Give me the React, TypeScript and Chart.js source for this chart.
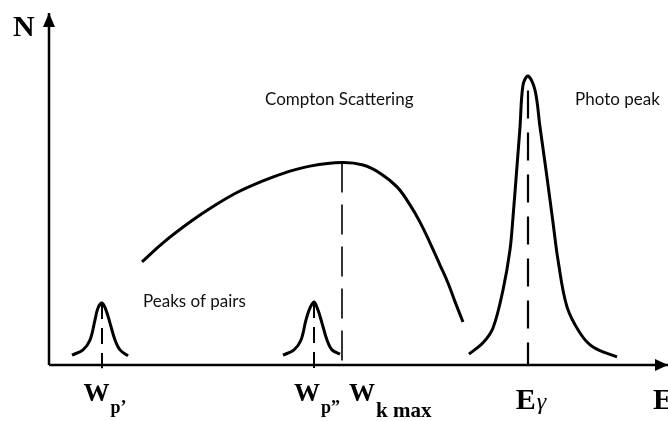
import { useEffect, useRef } from "react";
import { Chart, registerables } from "chart.js";

Chart.register(...registerables);

// Energy (arbitrary units) and counts N (0..100)
const pairPeak1E = [23, 34, 41, 46, 49, 53, 57, 61, 66, 71, 79];
const pairPeak1N = [2.8, 4.3, 7.1, 12.8, 16.2, 17.6, 15.6, 11.9, 7.1, 4.3, 2.6];
const pairPeak2E = [234, 245, 252, 257, 261, 265, 269, 273, 278, 283, 291];
const pairPeak2N = [2.8, 4.3, 7.1, 12.8, 16.2, 17.9, 15.6, 11.9, 7.1, 4.3, 3.1];
const comptonE = [93, 114, 141, 164, 188, 214, 238, 261, 293, 314, 331, 348, 361, 371, 381, 391, 399, 406, 414];
const comptonN = [29.3, 34.7, 40.6, 45.0, 49.0, 52.3, 54.8, 56.5, 57.5, 56.8, 54.5, 50.6, 45.5, 40.6, 34.7, 28.4, 23.3, 18.0, 12.2];
const photoE = [420, 434, 444, 454, 461, 464, 468, 471, 474, 479, 486, 491, 497, 501, 504, 509, 518, 531, 544, 568];
const photoN = [3.1, 6.3, 10.5, 21.3, 32.7, 42.0, 56.5, 67.6, 79.5, 82.1, 78.1, 67.6, 55.4, 46.9, 40.5, 29.8, 16.5, 9.1, 5.1, 2.3];

// Marked energies: Wp', Wp'', Wk max, Eγ
const markerE = [53, 265, 293, 479];
const markerTopN = [17.6, 17.9, 57.5, 78];
const markerMain = ["W", "W", "W", "E"];
const markerSub = ["p’", "p”", "k max", "γ"];

const noteTexts = ["Compton Scattering", "Photo peak", "Peaks of pairs"];
const noteE = [216, 526, 94];
const noteN = [73.9, 73.9, 16.5];

const axisMaxE = 619;
const axisMaxN = 100;
const axisTitleX = "E";
const axisTitleY = "N";

const pts = (xs: number[], ys: number[]) => xs.map((x, i) => ({ x, y: ys[i] }));

export default function App() {
  const ref = useRef<HTMLCanvasElement | null>(null);

  useEffect(() => {
    if (!ref.current) return;
    const serifB = "'Liberation Serif', 'Times New Roman', serif";
    const sans = "Lato, 'Open Sans', sans-serif";
    const markerDash = [[16, 9], [16, 9], [30, 12], [28, 14]];
    const markerWidth = [2, 2, 1.6, 2.2];
    const markerAlign = ["center", "center", "start", "center"];

    const curve = (data: any, tension: number) => ({
      data,
      showLine: true,
      borderColor: "#000",
      borderWidth: 3,
      pointRadius: 0,
      tension,
      clip: false as any,
    });

    const datasets: any[] = [
      curve(pts(pairPeak1E, pairPeak1N), 0.35),
      curve(pts(pairPeak2E, pairPeak2N), 0.35),
      curve(pts(comptonE, comptonN), 0.4),
      curve(pts(photoE, photoN), 0.35),
      // axes
      { data: [{ x: 0, y: 0 }, { x: 0, y: axisMaxN }], showLine: true, borderColor: "#000", borderWidth: 2.5, pointRadius: 0, clip: false },
      { data: [{ x: 0, y: 0 }, { x: axisMaxE, y: 0 }], showLine: true, borderColor: "#000", borderWidth: 2.5, pointRadius: 0, clip: false },
    ];
    markerE.forEach((e, i) => {
      datasets.push({
        data: [{ x: e, y: markerTopN[i] }, { x: e, y: i < 2 ? -0.9 : 0 }],
        showLine: true,
        borderColor: "#000",
        borderWidth: markerWidth[i],
        borderDash: markerDash[i],
        pointRadius: 0,
        clip: false,
      });
    });

    const plugin = {
      id: "schematic",
      afterDatasetsDraw(chart: any) {
        const { ctx } = chart;
        const xs = chart.scales.x;
        const ys = chart.scales.y;
        const px = (v: number) => xs.getPixelForValue(v);
        const py = (v: number) => ys.getPixelForValue(v);
        ctx.save();
        ctx.fillStyle = "#000";
        // arrow heads
        const ax = px(0), at = py(axisMaxN);
        ctx.beginPath();
        ctx.moveTo(ax, at);
        ctx.lineTo(ax - 6, at + 14);
        ctx.lineTo(ax + 6, at + 14);
        ctx.closePath();
        ctx.fill();
        const bx = px(axisMaxE), by = py(0);
        ctx.beginPath();
        ctx.moveTo(bx, by);
        ctx.lineTo(bx - 13, by - 6);
        ctx.lineTo(bx - 13, by + 6);
        ctx.closePath();
        ctx.fill();

        ctx.textBaseline = "alphabetic";
        // axis titles
        ctx.font = `bold 30px ${serifB}`;
        ctx.textAlign = "left";
        ctx.fillText(axisTitleY, ax - 36, at + 23);
        ctx.fillText(axisTitleX, px(604), by + 44);

        // marker labels
        markerE.forEach((e, i) => {
          const isE = markerMain[i] === "E";
          const longSub = markerSub[i].length > 2;
          const mainFont = isE ? `bold 30px ${serifB}` : `bold 26px ${serifB}`;
          const subFont = isE
            ? `italic 24px ${serifB}`
            : `bold ${longSub ? 21 : 18}px ${serifB}`;
          ctx.font = mainFont;
          const wm = ctx.measureText(markerMain[i]).width;
          ctx.font = subFont;
          const wsub = ctx.measureText(markerSub[i]).width;
          const total = wm + 1 + wsub;
          const lx = markerAlign[i] === "start" ? px(e) + 7 : px(e) + 3 - total / 2;
          const baseMain = by + (isE ? 44 : 36);
          const baseSub = isE ? by + 44 : by + (longSub ? 52 : 48);
          ctx.font = mainFont;
          ctx.fillText(markerMain[i], lx, baseMain);
          ctx.font = subFont;
          ctx.fillText(markerSub[i], lx + wm + 1, baseSub);
        });

        // notes
        ctx.font = `17px ${sans}`;
        ctx.fillStyle = "#111";
        noteTexts.forEach((t, i) => ctx.fillText(t, px(noteE[i]), py(noteN[i])));
        ctx.restore();
      },
    };

    const chart = new Chart(ref.current, {
      type: "scatter",
      data: { datasets },
      options: {
        animation: false,
        responsive: false,
        layout: { padding: { left: 49, top: 13, right: 0, bottom: 56 } },
        plugins: { legend: { display: false }, tooltip: { enabled: false } },
        scales: {
          x: { type: "linear", min: 0, max: axisMaxE, display: false },
          y: { type: "linear", min: 0, max: axisMaxN, display: false },
        },
      },
      plugins: [plugin],
    });
    return () => chart.destroy();
  }, []);

  return (
    <div style={{ position: "fixed", left: 0, top: 0, width: 668, height: 421, background: "#fff" }}>
      <canvas ref={ref} width={668} height={421} style={{ display: "block" }} />
    </div>
  );
}
